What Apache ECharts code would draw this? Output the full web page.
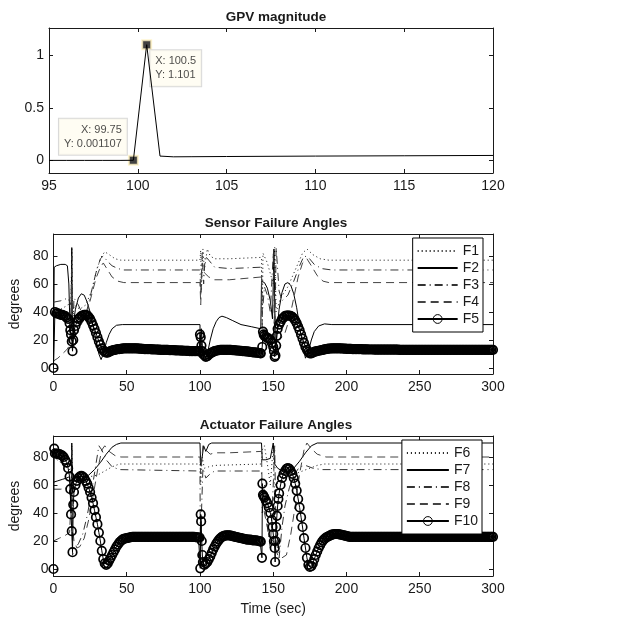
<!DOCTYPE html>
<html>
<head>
<meta charset="utf-8">
<script src="https://cdn.jsdelivr.net/npm/echarts@6/dist/echarts.min.js"></script>
<style>
  html, body { margin: 0; padding: 0; background: #fff; }
  #chart { width: 632px; height: 618px; }
</style>
</head>
<body>
<div id="chart"></div>
<script>
// GPV magnitude (top panel)
const gpvTime = [95, 96, 97, 98, 99, 99.75, 100.5, 101.25, 102, 103, 105, 110, 115, 120];
const gpvMag = [0, 0, 0, 0, 0, 0.001107, 1.101, 0.041, 0.034, 0.035, 0.037, 0.041, 0.044, 0.047];
const tipTime = [99.75, 100.5];
const tipMag = [0.001107, 1.101];
const gpvTicks = [0, 0.5, 1];
const degTicks = [0, 20, 40, 60, 80];

// Sensor failure angles [t, deg]
const sensorF1 = [[0,40],[5,42],[10,45],[12,50],[12.5,85],[13,30],[14,45],[18,42],[22,45],[26,55],[30,72],[33,80],[35,83],[38,81],[42,78],[46,77],[100,77],[100.5,84],[101,55],[102,85],[103,70],[105,85],[107,80],[110,78],[120,78],[142,79],[142.5,30],[143,82],[146,75],[150,60],[151,86],[152,40],[155,50],[160,58],[165,70],[170,82],[173,85],[177,81],[182,78],[188,77],[300,77]];
const sensorF2 = [[0,0],[0.5,72],[2,73],[5,74],[8,74],[9.5,73],[10.5,60],[11,40],[12,32],[12.5,86],[13,15],[14,35],[15,42],[17,50],[19,53],[21,52],[23,47],[25,40],[27,30],[29,20],[31,10],[32.5,6],[34,10],[36,18],[38,24],[40,28],[43,30.5],[47,31],[100,31],[100.3,10],[101,28],[102,8],[103,5],[105,10],[107,20],[109,28],[111,33],[113,36],[115,37],[118,36],[122,34],[128,31],[135,29.5],[141.5,28],[142,62],[144,61],[146,57],[148,48],[149.5,35],[150.5,85],[151.5,10],[152.5,25],[154,42],[156,54],[158,60],[160,61],[162,59],[164,53],[166,43],[168,30],[170,17],[172,7],[174,12],[176,20],[178,26],[181,30],[185,31.5],[190,31],[300,31]];
const sensorF3 = [[0,47],[5,48],[10,50],[12,45],[12.5,80],[13,20],[14,50],[17,45],[20,38],[23,42],[26,55],[29,68],[32,78],[34,80],[37,76],[40,73],[44,71],[48,70],[100,70],[100.5,52],[101.5,82],[102.5,60],[103.5,80],[106,77],[110,72],[120,71],[142,72],[142.5,38],[144,58],[146,52],[148,40],[150,82],[151,20],[152,86],[154,55],[156,48],[160,52],[164,62],[168,73],[171,80],[174,79],[178,74],[183,71],[190,70],[300,70]];
const sensorF4 = [[0,5],[3,7],[6,10],[9,13],[11,16],[12,40],[12.5,60],[13,25],[14,20],[17,28],[20,33],[23,40],[26,52],[29,64],[32,72],[34,75],[37,70],[40,65],[44,62],[48,61],[100,61],[100.5,45],[101.5,75],[103,68],[106,65],[110,63],[120,63],[142,65],[142.5,30],[144,22],[146,18],[148,15],[150,22],[151,40],[152,20],[154,20],[156,22],[158,25],[161,35],[164,50],[167,65],[170,75],[173,78],[176,73],[180,66],[184,62],[188,61],[300,61]];
const sensorF5 = [
  [0,0],[1,40],[2,39],[3,39],[4,38.5],[5,38],[6,38],[7,37.5],[8,37],[9,36],[10,35],[11,32],[11.5,27],[12,24],[12.5,19],[13,12],[13.5,20],[14,27],[15,30],[16,33],[17,35],[18,36],[19,37],[20,37.5],
  [21,38],[22,38],[23,37.5],[24,36.5],[25,35],[26,33],[27,30.5],[28,28],[29,25],[30,22],[31,19],[32,16.5],[33,14],[34,12.5],[35,11.5],[36,11],[37,11],[38,11.5],[39,12],[40,12.5],
  [41,12.8],[42,13],[43,13.2],[44,13.5],[45,13.5],[46,13.7],[47,13.8],[48,14],[49,14],[50,14],[51,14],[52,14],[53,14],[54,14],[55,14],[56,14],[57,14],[58,13.8],[59,13.8],[60,13.7],
  [61,13.6],[62,13.5],[63,13.5],[64,13.5],[65,13.4],[66,13.4],[67,13.3],[68,13.3],[69,13.2],[70,13.2],[71,13.1],[72,13.1],[73,13],[74,13],[75,13],[76,13],[77,12.9],[78,12.9],[79,12.8],[80,12.8],
  [81,12.7],[82,12.7],[83,12.6],[84,12.6],[85,12.5],[86,12.5],[87,12.4],[88,12.4],[89,12.3],[90,12.3],[91,12.2],[92,12.2],[93,12.1],[94,12.1],[95,12],[96,12],[97,12],[98,12],[99,12],[99.5,12],
  [100,24],[100.5,22],[101,16],[101.5,12],[102,10],[103,9],[104,8],[105,8.5],[106,9.5],[107,10.5],[108,11],[109,11.5],[110,12],[111,12.3],[112,12.5],[113,12.8],[114,13],[115,13],[116,13],[117,13],
  [118,13],[119,13],[120,13],[121,12.9],[122,12.8],[123,12.7],[124,12.6],[125,12.5],[126,12.4],[127,12.3],[128,12.2],[129,12.1],[130,12],[131,11.9],[132,11.8],[133,11.7],[134,11.5],[135,11.4],
  [136,11.2],[137,11.1],[138,11],[139,10.9],[140,10.7],[141,10.6],[141.5,10.5],
  [142.5,15],[143,26],[143.5,24],[144,23],[145,22],[146,21.5],[147,21],[148,20],[149,18],[150,15],[150.5,12],[151,8],[151.5,9],[152,16],[152.5,23],[153,28],[154,31],[155,33],[156,35],[157,36],
  [158,37],[159,37.5],[160,37.5],[161,37.5],[162,37],[163,36.5],[164,35.5],[165,34],[166,32],[167,29.5],[168,27],[169,24],[170,21],[171,18],[172,15],[173,13],[174,11.5],[175,10.5],[176,10.5],
  [177,11],[178,11.5],[179,11.8],[180,12],[181,12.3],[182,12.5],[183,12.8],[184,13],[185,13.3],[186,13.5],[187,13.7],[188,13.8],[189,13.9],[190,14],[191,14],[192,14],[193,14],[194,14],[195,14],
  [196,14],[197,13.9],[198,13.8],[199,13.8],[200,13.7],[201,13.7],[202,13.6],[203,13.6],[204,13.5],[205,13.5],[206,13.5],[207,13.5],[208,13.4],[209,13.4],[210,13.4],[211,13.3],[212,13.3],
  [213,13.3],[214,13.3],[215,13.2],[216,13.2],[217,13.2],[218,13.2],[219,13.1],[220,13.1],[221,13.1],[222,13.1],[223,13.1],[224,13.1],[225,13.1],[226,13.1],[227,13.1],[228,13.1],[229,13.1],
  [230,13.1],[231,13.1],[232,13.1],[233,13.1],[234,13.1],[235,13.1],[236,13],[237,13],[238,13],[239,13],[240,13],[241,13],[242,13],[243,13],[244,13],[245,13],[246,13],[247,13],[248,13],
  [249,13],[250,13],[251,13],[252,13],[253,13],[254,13],[255,13],[256,13],[257,13],[258,13],[259,13],[260,13],[261,13],[262,13],[263,13],[264,13],[265,13],[266,13],[267,13],[268,13],
  [269,13],[270,13],[271,13],[272,13],[273,13],[274,13],[275,13],[276,13],[277,13],[278,13],[279,13],[280,13],[281,13],[282,13],[283,13],[284,13],[285,13],[286,13],[287,13],[288,13],
  [289,13],[290,13],[291,13],[292,13],[293,13],[294,13],[295,13],[296,13],[297,13],[298,13],[299,13],[300,13]];

// Actuator failure angles [t, deg]
const actuatorF6 = [[0,80],[5,76],[10,72],[12,70],[12.5,88],[13,60],[15,62],[20,65],[25,66],[30,67],[35,70],[40,73],[45,75],[100,75],[100.5,60],[101.5,80],[103,72],[106,73],[110,74],[142,75],[142.5,85],[144,88],[146,75],[148,60],[150,88],[151,50],[153,62],[156,64],[160,66],[165,68],[170,70],[175,72],[180,74],[185,75],[300,75]];
const actuatorF7 = [[0,62],[3,63],[6,64],[9,65],[11,66],[12,40],[12.5,90],[13,55],[14,65],[17,66],[20,66],[24,67],[28,71],[32,76],[36,82],[40,87],[43,89],[46,90],[100,90],[100.5,74],[101.5,80],[102.5,88],[104,84],[106,89],[108,90],[142,90],[142.5,78],[145,78],[148,79],[150,90],[151,75],[153,72],[156,70],[160,70],[164,72],[168,77],[172,83],[176,88],[180,90],[300,90]];
const actuatorF8 = [[0,57],[5,57],[10,58],[12,60],[12.5,85],[13,10],[14,14],[17,18],[20,25],[23,38],[26,55],[29,75],[31,88],[33,85],[36,78],[40,73],[45,71],[100,70],[100.3,5],[101,40],[102,72],[104,65],[107,68],[110,70],[142,70],[142.5,40],[144,60],[146,30],[148,15],[150,60],[151,88],[152,20],[154,8],[156,30],[158,45],[161,58],[164,67],[168,73],[172,74],[177,72],[183,71],[300,71]];
const actuatorF9 = [[0,20],[4,22],[8,24],[11,26],[12,50],[12.5,75],[13,30],[14,20],[16,15],[18,16],[21,22],[24,35],[27,52],[30,70],[33,85],[35,88],[38,84],[42,81],[46,80],[100,80],[100.5,68],[102,88],[104,85],[107,82],[110,83],[120,83],[142,84],[142.5,50],[144,40],[146,30],[148,22],[150,20],[153,10],[156,8],[159,10],[162,25],[165,45],[168,68],[171,85],[173,90],[176,86],[180,82],[186,80],[300,80]];
const actuatorF10 = [
  [0,0],[0.5,86],[1,82.5],[2,82.5],[3,82],[4,82],[5,81.5],[6,81],[7,80],[8,78],[9,76],[10,72],[11,66],[11.5,57],[12,39],[12.5,27],[13,12],[13.5,46],[14,55],[15,60],[16,63],[17,65],[18,66],
  [19,66.5],[20,66],[21,65],[22,63],[23,61],[24,58],[25,55],[26,51],[27,47],[28,42],[29,37],[30,32],[31,26],[32,20],[33,13],[34,7],[35,4],[36,3],[37,4],[38,6],[39,8],[40,10],[41,12],
  [42,14],[43,16],[44,17.5],[45,19],[46,20],[47,21],[48,21.5],[49,21.8],[50,22],[51,22.3],[52,22.5],[53,22.7],[54,23],[55,23],[56,23],[57,23],[58,23],[59,23],[60,23],[61,23],[62,23],
  [63,23],[64,23],[65,23],[66,23],[67,23],[68,23],[69,23],[70,23],[71,23],[72,23],[73,23],[74,23],[75,23],[76,23],[77,23],[78,23],[79,23],[80,23],[81,23],[82,23],[83,23],[84,23],
  [85,23],[86,23],[87,23],[88,23],[89,23],[90,23],[91,23],[92,23],[93,23],[94,23],[95,23],[96,22.9],[97,22.8],[98,22.6],[99,22.5],[99.8,22.5],
  [100.2,0.5],[100.5,39],[100.8,34],[101.2,20],[101.6,10],[102,5],[103,3],[104,4],[105,5],[106,7],[107,9],[108,11.5],[109,14],[110,16],[111,18],[112,19.5],[113,21],[114,22],[115,23],
  [116,23.5],[117,23.8],[118,24],[119,24],[120,24],[121,23.8],[122,23.5],[123,23.3],[124,23],[125,22.8],[126,22.5],[127,22.3],[128,22],[129,21.8],[130,21.5],[131,21.3],[132,21],[133,21],
  [134,21],[135,20.8],[136,20.5],[137,20.5],[138,20.5],[139,20.3],[140,20],[141,19.8],[141.5,19.5],
  [142.3,8],[142.6,61],[143,53],[143.5,52],[144,51],[145,49],[146,47],[147,44],[148,40],[149,35],[149.5,30],[150,25],[150.5,20],[151,15],[151.3,5],[151.6,20],[152,30],[152.5,38],[153,45],
  [153.5,50],[154,54],[155,60],[156,65],[157,68],[158,70],[159,71.5],[160,72],[161,71.5],[162,70],[163,68],[164,65],[165,61],[166,56],[167,50],[168,44],[169,37],[170,30],[171,22],[172,15],
  [173,8],[174,3],[175,1.5],[176,2],[177,4],[178,7],[179,10],[180,12.5],[181,15],[182,17],[183,19],[184,20.5],[185,21.5],[186,22.5],[187,23],[188,23.5],[189,24],[190,24.5],[191,24.8],
  [192,25],[193,25],[194,25],[195,24.8],[196,24.5],[197,24.3],[198,24],[199,23.8],[200,23.5],[201,23.3],[202,23],[203,23],[204,23],[205,23],[206,23],[207,23],[208,23],[209,23],[210,23],
  [211,23],[212,23],[213,23],[214,23],[215,23],[216,23],[217,23],[218,23],[219,23],[220,23],[221,23],[222,23],[223,23],[224,23],[225,23],[226,23],[227,23],[228,23],[229,23],[230,23],
  [231,23],[232,23],[233,23],[234,23],[235,23],[236,23],[237,23],[238,23],[239,23],[240,23],[241,23],[242,23],[243,23],[244,23],[245,23],[246,23],[247,23],[248,23],[249,23],[250,23],
  [251,23],[252,23],[253,23],[254,23],[255,23],[256,23],[257,23],[258,23],[259,23],[260,23],[261,23],[262,23],[263,23],[264,23],[265,23],[266,23],[267,23],[268,23],[269,23],[270,23],
  [271,23],[272,23],[273,23],[274,23],[275,23],[276,23],[277,23],[278,23],[279,23],[280,23],[281,23],[282,23],[283,23],[284,23],[285,23],[286,23],[287,23],[288,23],[289,23],[290,23],
  [291,23],[292,23],[293,23],[294,23],[295,23],[296,23],[297,23],[298,23],[299,23],[300,23]];

const FONT = 'Liberation Sans';
const INK = '#1a1a1a';

function xAxes(grid, min, max, interval, name) {
  const base = {
    gridIndex: grid, type: 'value', min: min, max: max, interval: interval,
    axisLine: { onZero: false, lineStyle: { color: INK, width: 1 } },
    axisTick: { inside: true, length: 4, lineStyle: { color: INK } },
    splitLine: { show: false }
  };
  return [
    Object.assign({}, base, {
      position: 'bottom',
      axisLabel: { fontFamily: FONT, fontSize: 14, color: INK, margin: 6 },
      name: name || '', nameLocation: 'middle', nameGap: 26,
      nameTextStyle: { fontFamily: FONT, fontSize: 14, color: INK }
    }),
    Object.assign({}, base, { position: 'top', axisLabel: { show: false } })
  ];
}

function yAxes(grid, min, max, ticks, name) {
  const base = {
    gridIndex: grid, type: 'value', min: min, max: max,
    axisLine: { onZero: false, lineStyle: { color: INK, width: 1 } },
    axisTick: { inside: true, length: 4, customValues: ticks, lineStyle: { color: INK } },
    splitLine: { show: false }
  };
  return [
    Object.assign({}, base, {
      position: 'left',
      axisLabel: { fontFamily: FONT, fontSize: 14, color: INK, margin: 5, customValues: ticks },
      name: name || '', nameLocation: 'middle', nameGap: 29,
      nameTextStyle: { fontFamily: FONT, fontSize: 14, color: INK }
    }),
    Object.assign({}, base, { position: 'right', axisLabel: { show: false } })
  ];
}

function lineSeries(name, data, axis, dash, color) {
  return {
    name: name, type: 'line', data: data,
    xAxisIndex: axis, yAxisIndex: axis,
    symbol: 'none', showSymbol: false,
    lineStyle: { color: color, width: 1, type: dash },
    itemStyle: { color: color },
    emphasis: { disabled: true }
  };
}

function circleSeries(name, data, axis) {
  return {
    name: name, type: 'line', data: data,
    xAxisIndex: axis, yAxisIndex: axis,
    symbol: 'circle', symbolSize: 8.5, showSymbol: true, showAllSymbol: true,
    lineStyle: { color: '#000', width: 1 },
    itemStyle: { color: 'rgba(255,255,255,0)', borderColor: '#000', borderWidth: 1.7 },
    emphasis: { disabled: true }
  };
}

const DOT = [1, 3];
const DASH = [8, 5];
const DASHDOT = [8, 4, 1, 4];

// hide the legend symbol for plain lines, keep the open circle for F5 / F10
const circleIcon = { opacity: 1, color: 'rgba(255,255,255,0)', borderColor: '#000', borderWidth: 1 };
const legendBase = {
  orient: 'vertical', backgroundColor: '#fff', borderColor: '#000', borderWidth: 1,
  padding: [6, 4, 6, 4], itemGap: 3, itemHeight: 11,
  itemStyle: { opacity: 0 },
  textStyle: { fontFamily: FONT, fontSize: 14, color: INK, lineHeight: 14 },
  inactiveColor: '#000'
};

const chart = echarts.init(document.getElementById('chart'));
chart.setOption({
  animation: false,
  backgroundColor: '#fff',
  title: [
    { text: 'GPV magnitude', left: 271, top: 5, textAlign: 'center',
      textStyle: { fontFamily: FONT, fontSize: 13.5, fontWeight: 'bold', color: INK } },
    { text: 'Sensor Failure Angles', left: 271, top: 211, textAlign: 'center',
      textStyle: { fontFamily: FONT, fontSize: 13.5, fontWeight: 'bold', color: INK } },
    { text: 'Actuator Failure Angles', left: 271, top: 413, textAlign: 'center',
      textStyle: { fontFamily: FONT, fontSize: 13.5, fontWeight: 'bold', color: INK } }
  ],
  legend: [
    Object.assign({}, legendBase, {
      data: ['F1', 'F2', 'F3', 'F4', { name: 'F5', itemStyle: circleIcon }],
      right: 149, top: 238, itemWidth: 40
    }),
    Object.assign({}, legendBase, {
      data: ['F6', 'F7', 'F8', 'F9', { name: 'F10', itemStyle: circleIcon }],
      right: 150, top: 440, itemWidth: 42
    })
  ],
  grid: [
    { left: 49, top: 28, width: 444, height: 145 },
    { left: 49, top: 234, width: 444, height: 140 },
    { left: 49, top: 436, width: 444, height: 140 }
  ],
  xAxis: [].concat(
    xAxes(0, 95, 120, 5),
    xAxes(1, 0, 300, 50),
    xAxes(2, 0, 300, 50, 'Time (sec)')
  ),
  yAxis: [].concat(
    yAxes(0, -0.12, 1.26, gpvTicks),
    yAxes(1, -4.3, 95.7, degTicks, 'degrees'),
    yAxes(2, -5, 95, degTicks, 'degrees')
  ),
  series: [
    {
      type: 'line', data: gpvTime.map((t, i) => [t, gpvMag[i]]),
      xAxisIndex: 0, yAxisIndex: 0, symbol: 'none',
      lineStyle: { color: '#000', width: 1 }, emphasis: { disabled: true }
    },
    {
      type: 'scatter', xAxisIndex: 0, yAxisIndex: 0,
      symbol: 'rect', symbolSize: 9,
      itemStyle: { color: '#111', borderColor: '#fff3c4', borderWidth: 2 },
      emphasis: { disabled: true },
      label: {
        show: true, fontFamily: FONT, fontSize: 11, lineHeight: 14, color: INK,
        backgroundColor: '#fffdf0', borderColor: '#cfcfcf', borderWidth: 1, padding: [4, 5, 4, 5],
        formatter: p => 'X: ' + p.value[0] + '\nY: ' + p.value[1]
      },
      data: [
        { value: [tipTime[0], tipMag[0]],
          label: { position: [-1, 0], align: 'right', verticalAlign: 'bottom' } },
        { value: [tipTime[1], tipMag[1]],
          label: { position: [9, 11], align: 'left', verticalAlign: 'top' } }
      ]
    },
    lineSeries('F1', sensorF1, 2, DOT, '#111'),
    lineSeries('F2', sensorF2, 2, 'solid', '#000'),
    lineSeries('F3', sensorF3, 2, DASHDOT, '#333'),
    lineSeries('F4', sensorF4, 2, DASH, '#444'),
    circleSeries('F5', sensorF5, 2),
    lineSeries('F6', actuatorF6, 4, DOT, '#111'),
    lineSeries('F7', actuatorF7, 4, 'solid', '#000'),
    lineSeries('F8', actuatorF8, 4, DASHDOT, '#333'),
    lineSeries('F9', actuatorF9, 4, DASH, '#444'),
    circleSeries('F10', actuatorF10, 4)
  ]
});
</script>
</body>
</html>
